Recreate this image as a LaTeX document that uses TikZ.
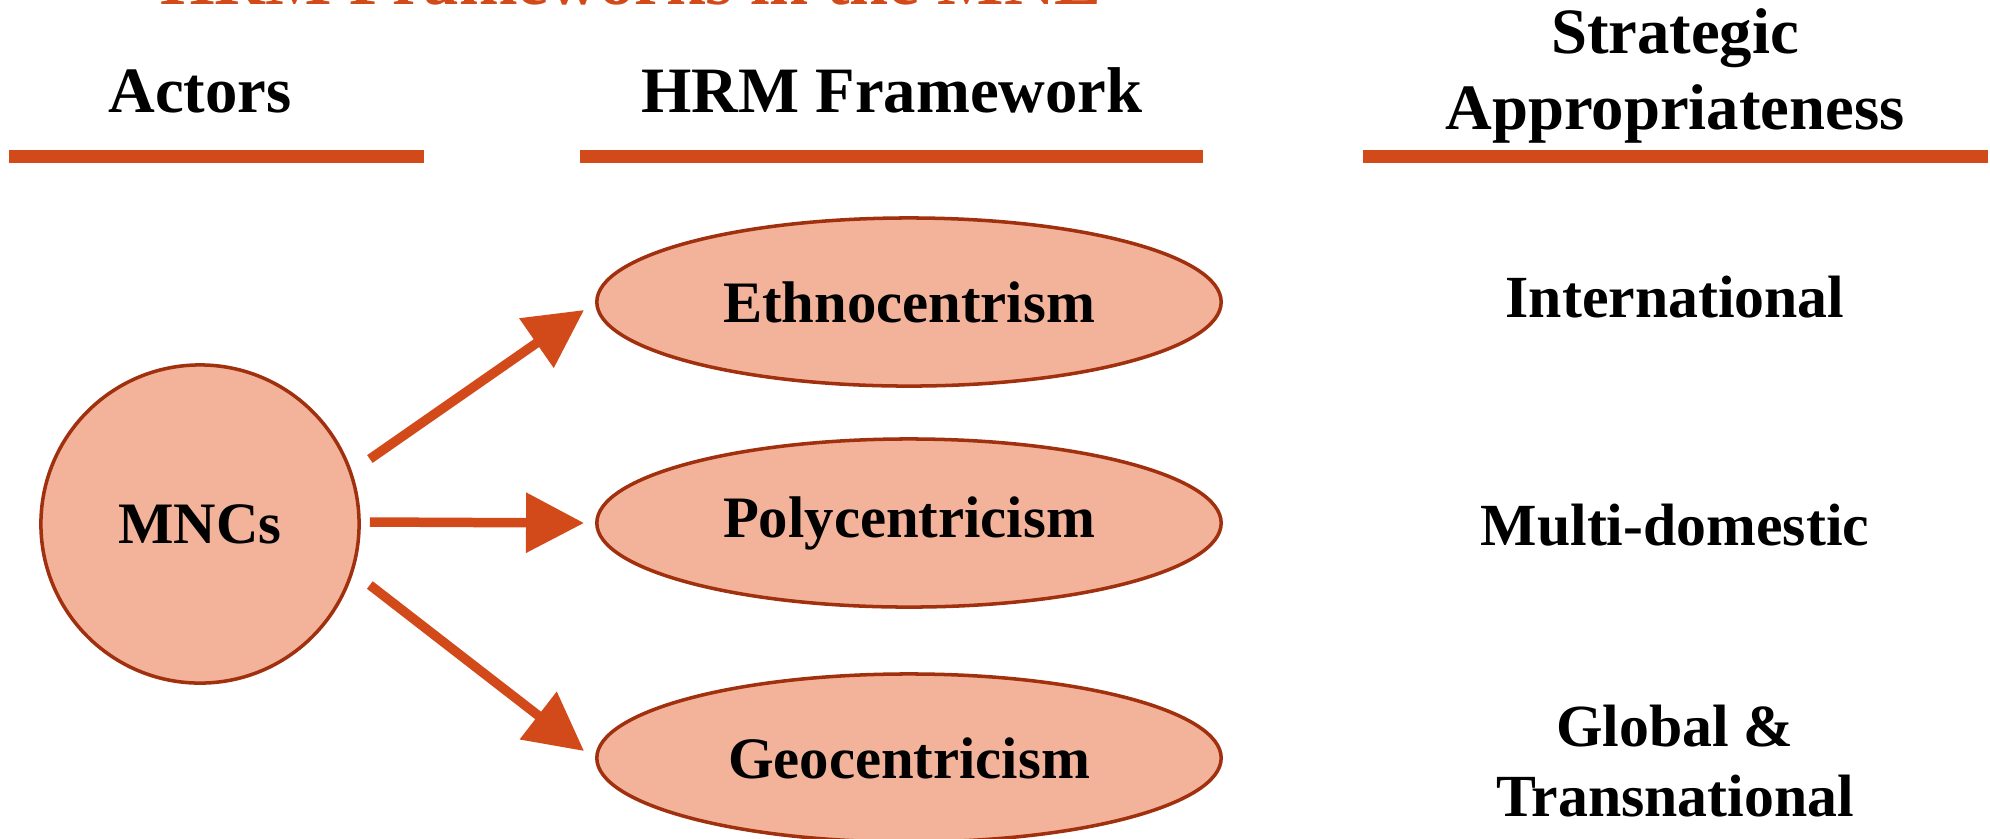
\documentclass[tikz,border=0pt]{standalone}
\usepackage{fontspec}
\setmainfont{Liberation Serif}
\usetikzlibrary{shapes.geometric,arrows.meta}
\definecolor{hrmorange}{HTML}{D24A1A}
\definecolor{hrmfill}{HTML}{F3B39A}
\definecolor{hrmedge}{HTML}{A0300E}
\tikzset{
  head/.style={font=\fontsize{18.4}{21.6}\selectfont\bfseries, align=center},
  side/.style={font=\fontsize{17}{19.8}\selectfont\bfseries, align=center},
  rule/.style={draw=hrmorange, line width=3.7pt},
  frame/.style={ellipse, draw=hrmedge, fill=hrmfill, line width=1pt,
    minimum width=6.24cm, minimum height=1.68cm, font=\fontsize{16.7}{20}\selectfont\bfseries},
  push/.style={draw=hrmorange, line width=2.7pt, -{Triangle[length=0.58cm,width=0.58cm]}}
}
\begin{document}
\begin{tikzpicture}[x=0.01cm,y=-0.01cm]
    \useasboundingbox (0,0) rectangle (1990,838);
    \node[anchor=base, text=hrmorange, font=\fontsize{20}{24}\selectfont\bfseries] (title) at (631,4) {HRM Frameworks in the MNE};

    \node[head, anchor=base] (actors) at (200,112) {Actors};
    \node[head, anchor=base] (frameworks) at (892,112) {HRM Framework};
    \node[head] (strategy) at (1675,76) {Strategic\\Appropriateness};
    \draw[rule] (9,156) coordinate (r1a) -- (424,156) coordinate (r1b);
    \draw[rule] (580,156) coordinate (r2a) -- (1203,156) coordinate (r2b);
    \draw[rule] (1363,156) coordinate (r3a) -- (1988,156) coordinate (r3b);

    \node[circle, draw=hrmedge, fill=hrmfill, line width=1pt, minimum size=3.18cm,
      font=\fontsize{16.7}{20}\selectfont\bfseries] (mnc) at (200,524) {MNCs};

    \node[frame] (ethno) at (909,302) {Ethnocentrism};
    \node[frame] (poly) at (909,523) {Polycentricism};
    \node[frame] (geo) at (909,758) {Geocentricism};

    \node[side] (intl) at (1675,297) {International};
    \node[side] (multi) at (1675,525) {Multi-domestic};
    \node[side] (glob) at (1675,761) {Global \&\\Transnational};

    \draw[push] ([shift={(9,-65)}]mnc.east) -- ([shift={(-11,8)}]ethno.west);
    \draw[push] ([shift={(9,-2)}]mnc.east) -- ([shift={(-11,0)}]poly.west);
    \draw[push] ([shift={(9,61)}]mnc.east) -- ([shift={(-11,-7)}]geo.west);
\end{tikzpicture}
\end{document}
